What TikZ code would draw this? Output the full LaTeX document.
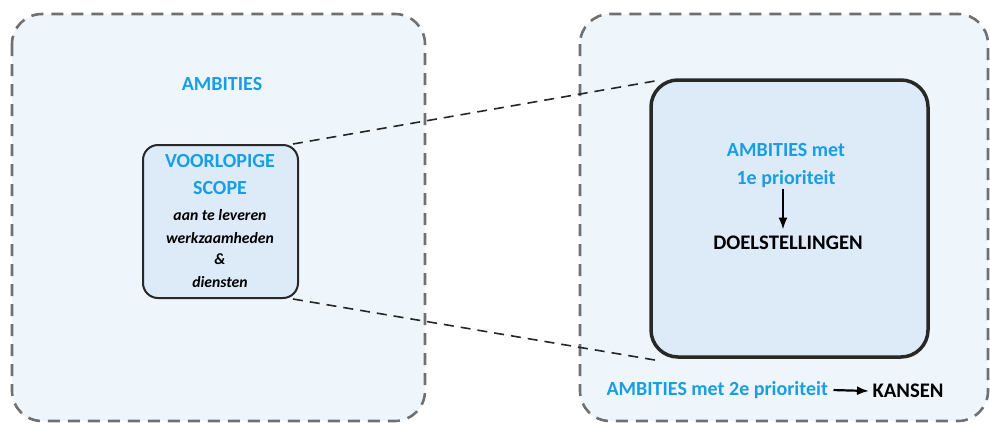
\documentclass[tikz,border=0pt]{standalone}
\usepackage{fontspec}
\setmainfont{Carlito}
\usepackage{tikz}
\usetikzlibrary{positioning,arrows.meta}

\definecolor{ambblue}{RGB}{24,158,226}
\definecolor{outerfill}{RGB}{238,246,252}
\definecolor{innerfill}{RGB}{220,235,247}
\definecolor{framegray}{RGB}{112,112,112}

\begin{document}
\begin{tikzpicture}[x=1pt,y=-1pt]
            \tikzset{
                outer/.style={draw=framegray, fill=outerfill, line width=2.6pt,
                    dash pattern=on 12pt off 8pt, rounded corners=30pt},
                inner/.style={draw={rgb,255:red,40;green,40;blue,40}, fill=innerfill,
                    rounded corners, inner sep=0pt},
                blue text/.style={text=ambblue, font=\bfseries\fontsize{20}{22}\selectfont},
                black text/.style={text=black, font=\bfseries\fontsize{20.7}{22}\selectfont},
                small text/.style={text=black, font=\bfseries\itshape\fontsize{15.7}{17}\selectfont},
                zoom line/.style={draw=black!85, line width=1.6pt, dash pattern=on 10pt off 7pt},
                pointer/.style={-{Latex[length=12pt,width=9pt]}, line width=2.2pt}
            }
            \useasboundingbox (0,0) rectangle (990,426);

            % the two dashed frames
            \draw[outer] (12,14) rectangle (425,421);
            \draw[outer] (580,14) rectangle (988,421);

            % boxes
            \node[inner, line width=2pt, rounded corners=15pt,
                minimum width=155pt, minimum height=153pt] (scope) at (220.5,221.5) {};
            \node[inner, line width=3.5pt, rounded corners=27pt,
                minimum width=277pt, minimum height=277pt] (goal) at (789.5,218.5) {};

            % zoom lines
            \draw[zoom line] ([xshift=-6pt]scope.north east) -- ([xshift=10pt,yshift=-2pt]goal.north west);
            \draw[zoom line] ([xshift=-6pt]scope.south east) -- ([xshift=10pt,yshift=-2pt]goal.south west);

            % left texts
            \node[blue text]  (ambities) at (222,84)  {AMBITIES};
            \node[blue text]  (voorl)    at (220,161) {VOORLOPIGE};
            \node[blue text]  (scopetxt) at (220,188) {SCOPE};
            \node[small text] (aan)      at (220,215) {aan te leveren};
            \node[small text] (werk)     at (220,238) {werkzaamheden};
            \node[small text] (amp)      at (220,259) {\&};
            \node[small text] (dienst)   at (220,282) {diensten};

            % right texts
            \node[blue text]  (amb1)  at (786,150) {AMBITIES met};
            \node[blue text]  (prio1) at (786,179) {1e prioriteit};
            \node[black text] (doel)  at (788,243) {DOELSTELLINGEN};
            \node[blue text, anchor=west]  (amb2)   at (603,390) {AMBITIES met 2e prioriteit};
            \node[black text, anchor=west] (kansen) at (869,391) {KANSEN};

            \draw[pointer] ([xshift=-3pt,yshift=2pt]prio1.south) -- ([xshift=-5pt,yshift=3pt]doel.north);
            \draw[pointer, shorten <=2pt] (amb2.east) -- (kansen.west);
        \end{tikzpicture}
\end{document}
